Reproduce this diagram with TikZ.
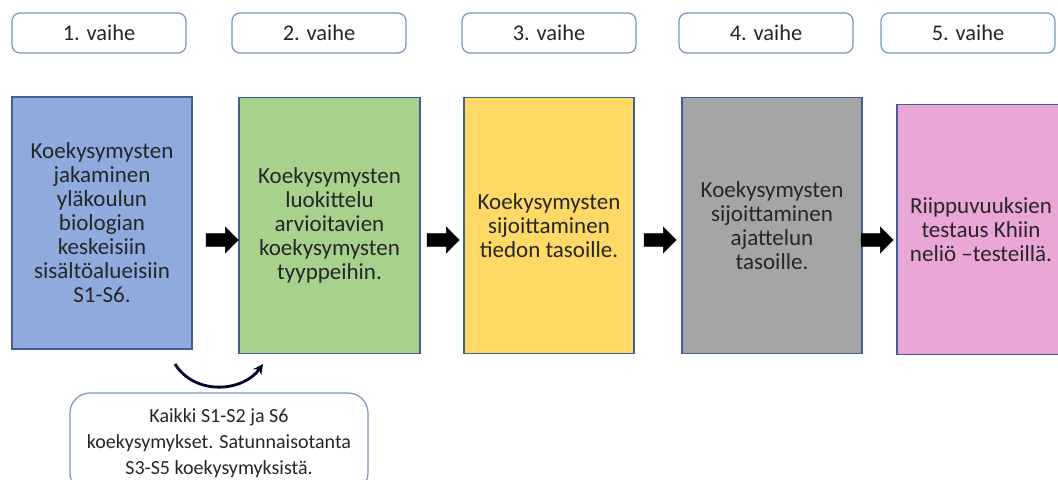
\documentclass[tikz,border=0pt]{standalone}
\usepackage{fontspec}
\setmainfont{Carlito}
\usetikzlibrary{shapes.arrows,arrows.meta}
\definecolor{reuna}{HTML}{41609A}
\definecolor{otsreuna}{HTML}{7A93C4}
\definecolor{teksti}{HTML}{262626}
\definecolor{sininen}{HTML}{8FAADC}
\definecolor{vihrea}{HTML}{A9D18E}
\definecolor{keltainen}{HTML}{FFD966}
\definecolor{harmaa}{HTML}{A5A5A5}
\definecolor{roosa}{HTML}{EAA7D5}
\tikzset{
  otsikko/.style={draw=otsreuna, line width=0.6pt, rounded corners=4pt, fill=white,
    minimum width=87pt, minimum height=20pt, text=teksti,
    font=\fontsize{11.2}{13}\selectfont},
  vaihe/.style={draw=reuna, line width=0.7pt, minimum width=90pt, minimum height=128pt,
    align=center, text=teksti, inner sep=2pt, font=\fontsize{11.5}{12}\selectfont},
  nuoli/.style={single arrow, fill=black, draw=black, line width=0.3pt,
    minimum height=16pt, minimum width=12.5pt, inner sep=3pt,
    single arrow head extend=3.25pt},
}
\begin{document}
\begin{tikzpicture}[x=0.5pt,y=-0.5pt]
  \useasboundingbox (0,0) rectangle (1058,479);
  \begin{scope}
  \clip (0,0) rectangle (1058,479);
  % otsikot
  \node[otsikko] (o1) at (99,33) {1. vaihe};
  \node[otsikko] (o2) at (319,33) {2. vaihe};
  \node[otsikko] (o3) at (549,33) {3. vaihe};
  \node[otsikko] (o4) at (766,33) {4. vaihe};
  \node[otsikko] (o5) at (968,33) {5. vaihe};
  % vaiheet
  \node[vaihe, fill=sininen, minimum width=90pt, minimum height=126pt] (v1) at (102,223)
    {Koekysymysten\\jakaminen\\yläkoulun\\biologian\\keskeisiin\\sisältöalueisiin\\S1-S6.};
  \node[vaihe, fill=vihrea, minimum width=90.5pt] (v2) at (329.5,225.5)
    {Koekysymysten\\luokittelu\\arvioitavien\\koekysymysten\\tyyppeihin.};
  \node[vaihe, fill=keltainen, minimum width=85pt] (v3) at (549,225.5)
    {Koekysymysten\\sijoittaminen\\tiedon tasoille.};
  \node[vaihe, fill=harmaa, minimum width=90pt] (v4) at (772,225.5)
    {Koekysymysten\\sijoittaminen\\ajattelun\\tasoille.};
  \node[vaihe, fill=roosa, minimum width=84pt, minimum height=125pt] (v5) at (981,229.5)
    {Riippuvuuksien\\testaus Khiin\\neliö –testeillä.};
  % nuolet vaiheiden valissa
  \node[nuoli] (n12) at (219,240) {};
  \node[nuoli] (n23) at (440,240) {};
  \node[nuoli] (n34) at (657,240) {};
  \node[nuoli] (n45) at (874,240) {};
  % otanta
  \node[draw=otsreuna, line width=0.6pt, rounded corners=10pt, fill=white, align=center,
    text=teksti, minimum width=149pt, minimum height=50pt,
    font=\fontsize{10}{13}\selectfont] (ot) at (219,443)
    {Kaikki S1-S2 ja S6\\koekysymykset. Satunnaisotanta\\S3-S5 koekysymyksistä.};
  \coordinate (k1) at (175,364);
  \coordinate (k2) at (263,364);
  \draw[-{Stealth[length=5pt,width=5pt]}, line width=1.4pt, color=black!85!blue]
    (k1) .. controls (195,396) and (243,392) .. (k2); % kaareva nuoli
  \end{scope}
\end{tikzpicture}
\end{document}
